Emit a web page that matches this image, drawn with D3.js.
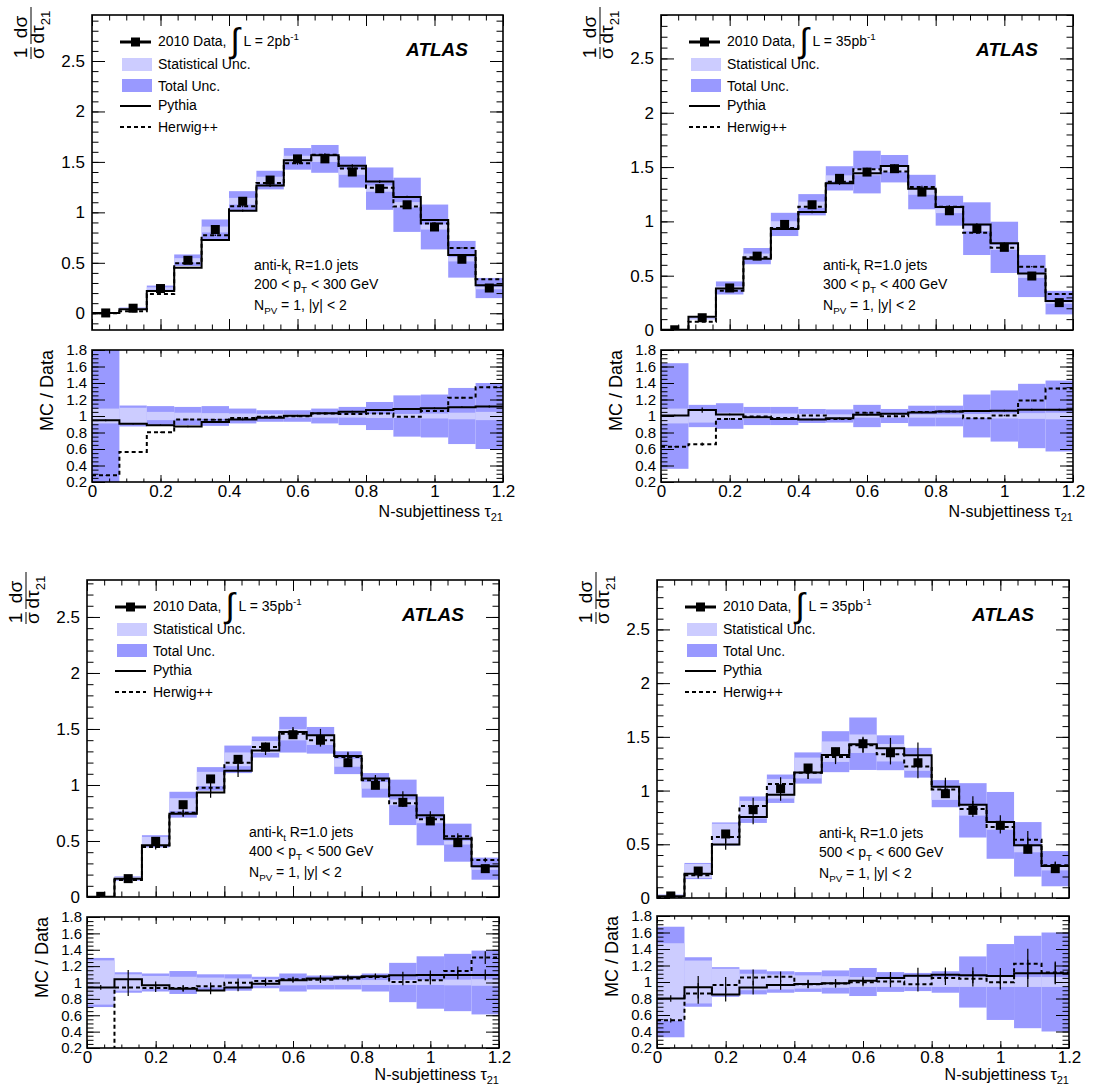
<!DOCTYPE html>
<html>
<head>
<meta charset="utf-8">
<script src="https://cdn.jsdelivr.net/npm/d3@7"></script>
<style>
  body { margin: 0; background: #fff; }
  svg text { font-family: "Liberation Sans", Arial, sans-serif; fill: #000; }
</style>
</head>
<body>
<svg id="chart" width="1099" height="1086"></svg>
<script>
const binEdges = [0, 0.08, 0.16, 0.24, 0.32, 0.4, 0.48, 0.56, 0.64, 0.72, 0.8, 0.88, 0.96, 1.04, 1.12, 1.2];
const mainTicks = [0, 0.5, 1, 1.5, 2, 2.5];
const ratioTicks = [0.2, 0.4, 0.6, 0.8, 1, 1.2, 1.4, 1.6, 1.8];
const xTicks = [0, 0.2, 0.4, 0.6, 0.8, 1, 1.2];

const ptLow = [200, 300, 400, 500];
const ptHigh = [300, 400, 500, 600];
const lumi = ["2", "35", "35", "35"];

// 200 < pT < 300
const data200 = [0.003, 0.05, 0.245, 0.525, 0.83, 1.11, 1.32, 1.53, 1.53, 1.40, 1.235, 1.075, 0.855, 0.535, 0.25];
const pythia200 = [0.003, 0.04, 0.22, 0.45, 0.727, 1.017, 1.265, 1.516, 1.566, 1.463, 1.305, 1.153, 0.925, 0.578, 0.278];
const herwig200 = [0.001, 0.02, 0.19, 0.495, 0.773, 1.06, 1.29, 1.487, 1.57, 1.434, 1.245, 1.057, 0.889, 0.647, 0.337];
const ratioPy200 = [0.947, 0.906, 0.889, 0.873, 0.926, 0.959, 0.98, 1.004, 1.033, 1.053, 1.074, 1.086, 1.094, 1.107, 1.115];
const ratioHw200 = [0.282, 0.565, 0.803, 0.959, 0.955, 0.975, 0.99, 0.996, 1.029, 1.025, 1.029, 0.99, 1.062, 1.222, 1.349];
const statRel200 = [0.09, 0.1, 0.05, 0.04, 0.035, 0.03, 0.025, 0.02, 0.02, 0.02, 0.025, 0.025, 0.03, 0.04, 0.05];
const totRel200 = [1.2, 0.127, 0.12, 0.11, 0.12, 0.09, 0.07, 0.07, 0.09, 0.11, 0.17, 0.25, 0.26, 0.34, 0.40];
const mcErr200 = [0.01, 0.01, 0.01, 0.01, 0.01, 0.01, 0.01, 0.01, 0.01, 0.01, 0.01, 0.01, 0.01, 0.01, 0.01];

// 300 < pT < 400
const data300 = [0.002, 0.113, 0.387, 0.68, 0.972, 1.153, 1.396, 1.454, 1.485, 1.27, 1.098, 0.933, 0.761, 0.497, 0.252];
const pythia300 = [0.002, 0.123, 0.383, 0.656, 0.929, 1.086, 1.35, 1.442, 1.509, 1.30, 1.132, 0.972, 0.798, 0.521, 0.267];
const herwig300 = [0.001, 0.077, 0.362, 0.669, 0.939, 1.135, 1.365, 1.479, 1.46, 1.316, 1.135, 0.896, 0.758, 0.583, 0.331];
const ratioPy300 = [1.006, 1.072, 1.019, 0.986, 0.965, 0.957, 0.973, 1.015, 1.027, 1.043, 1.056, 1.06, 1.064, 1.077, 1.077];
const ratioHw300 = [0.626, 0.659, 0.965, 0.994, 0.977, 1.006, 0.965, 1.039, 0.998, 1.048, 1.056, 0.973, 1.006, 1.188, 1.333];
const statRel300 = [0.09, 0.08, 0.04, 0.035, 0.03, 0.025, 0.02, 0.02, 0.02, 0.02, 0.02, 0.025, 0.03, 0.035, 0.04];
const totRel300 = [0.64, 0.135, 0.155, 0.11, 0.11, 0.085, 0.08, 0.135, 0.085, 0.125, 0.125, 0.26, 0.31, 0.39, 0.43];
const mcErr300 = [0.01, 0.03, 0.01, 0.01, 0.01, 0.01, 0.01, 0.01, 0.01, 0.01, 0.01, 0.01, 0.01, 0.01, 0.01];

// 400 < pT < 500
const data400 = [0.006, 0.164, 0.497, 0.824, 1.054, 1.229, 1.339, 1.449, 1.399, 1.199, 0.997, 0.845, 0.679, 0.485, 0.253];
const pythia400 = [0.003, 0.164, 0.461, 0.744, 0.932, 1.128, 1.307, 1.473, 1.443, 1.259, 1.057, 0.908, 0.729, 0.521, 0.274];
const herwig400 = [0.0, 0.152, 0.446, 0.753, 0.976, 1.199, 1.339, 1.458, 1.399, 1.25, 1.042, 0.836, 0.693, 0.542, 0.33];
const ratioPy400 = [0.94, 1.039, 0.965, 0.924, 0.903, 0.94, 0.986, 1.027, 1.048, 1.064, 1.077, 1.089, 1.093, 1.093, 1.093];
const ratioHw400 = [0.0, 0.94, 0.932, 0.932, 0.953, 0.998, 1.019, 1.039, 1.035, 1.048, 1.068, 1.006, 1.027, 1.139, 1.304];
const statRel400 = [0.27, 0.1, 0.08, 0.07, 0.06, 0.05, 0.04, 0.035, 0.03, 0.03, 0.03, 0.03, 0.03, 0.035, 0.04];
const totRel400 = [0.3, 0.125, 0.11, 0.14, 0.1, 0.1, 0.07, 0.11, 0.085, 0.085, 0.11, 0.24, 0.32, 0.35, 0.39];
const mcErr400 = [0.03, 0.11, 0.05, 0.04, 0.05, 0.05, 0.03, 0.03, 0.04, 0.03, 0.03, 0.04, 0.05, 0.05, 0.06];

// 500 < pT < 600
const data500 = [0.019, 0.251, 0.596, 0.822, 1.017, 1.21, 1.362, 1.436, 1.352, 1.259, 0.971, 0.816, 0.676, 0.453, 0.273];
const pythia500 = [0.016, 0.226, 0.499, 0.754, 0.962, 1.169, 1.331, 1.43, 1.393, 1.328, 1.036, 0.868, 0.707, 0.49, 0.298];
const herwig500 = [0.009, 0.211, 0.568, 0.856, 1.061, 1.166, 1.312, 1.421, 1.337, 1.225, 1.011, 0.828, 0.661, 0.543, 0.304];
const ratioPy500 = [0.8, 0.936, 0.849, 0.932, 0.965, 0.977, 0.986, 1.015, 1.048, 1.077, 1.089, 1.081, 1.072, 1.105, 1.105];
const ratioHw500 = [0.535, 0.862, 0.965, 1.056, 1.064, 0.973, 0.981, 0.998, 1.006, 0.973, 1.048, 1.039, 0.998, 1.221, 1.114];
const statRel500 = [0.47, 0.26, 0.16, 0.1, 0.09, 0.08, 0.07, 0.06, 0.06, 0.06, 0.06, 0.06, 0.06, 0.06, 0.06];
const totRel500 = [0.67, 0.3, 0.18, 0.15, 0.13, 0.12, 0.14, 0.17, 0.12, 0.11, 0.13, 0.31, 0.46, 0.56, 0.6];
const mcErr500 = [0.05, 0.145, 0.1, 0.09, 0.06, 0.05, 0.05, 0.05, 0.07, 0.09, 0.08, 0.09, 0.09, 0.15, 0.12];

const panels = [
  { data: data200, py: pythia200, hw: herwig200, rPy: ratioPy200, rHw: ratioHw200, stat: statRel200, tot: totRel200, mcErr: mcErr200 },
  { data: data300, py: pythia300, hw: herwig300, rPy: ratioPy300, rHw: ratioHw300, stat: statRel300, tot: totRel300, mcErr: mcErr300 },
  { data: data400, py: pythia400, hw: herwig400, rPy: ratioPy400, rHw: ratioHw400, stat: statRel400, tot: totRel400, mcErr: mcErr400 },
  { data: data500, py: pythia500, hw: herwig500, rPy: ratioPy500, rHw: ratioHw500, stat: statRel500, tot: totRel500, mcErr: mcErr500 }
];

const layout = [
  { x0: 92, x1: 503, top: 15, bottom: 330, rTop: 350, rBottom: 482, yMin: -0.166, yMax: 2.956, titleGap: 35 },
  { x0: 661, x1: 1073, top: 15, bottom: 330, rTop: 350, rBottom: 482, yMin: 0, yMax: 2.9, titleGap: 35 },
  { x0: 87, x1: 499, top: 580, bottom: 897, rTop: 917, rBottom: 1048, yMin: 0, yMax: 2.83, titleGap: 32 },
  { x0: 657, x1: 1069, top: 580, bottom: 898, rTop: 916, rBottom: 1048, yMin: 0, yMax: 2.96, titleGap: 32 }
];

const totColor = "#9999ff";
const statColor = "#ccccff";

const svg = d3.select("#chart");

const steps = vals => binEdges.map((e, i) => [e, vals[Math.min(i, vals.length - 1)]]);
const centers = binEdges.slice(0, -1).map((e, i) => (e + binEdges[i + 1]) / 2);
const minor = (lo, hi, step) => d3.range(Math.ceil(lo / step - 1e-6), Math.floor(hi / step + 1e-6) + 1).map(k => +(k * step).toFixed(4));

function rich(g, x, y, parts, size, anchor) {
  const t = g.append("text").attr("x", x).attr("y", y)
    .attr("font-size", size).attr("text-anchor", anchor || "start");
  let shift = 0;
  parts.forEach(p => {
    const target = p.off !== undefined ? p.off : p.sub ? size * 0.3 : p.sup ? -size * 0.45 : 0;
    const s = t.append("tspan").text(p.t).attr("dy", target - shift);
    if (p.sub || p.sup) s.attr("font-size", size * 0.7);
    if (p.size) s.attr("font-size", p.size);
    shift = target;
  });
  return t;
}

function frameAxes(g, x, y, w, h, o) {
  const fmt = d => String(d);
  const strip = sel => { sel.select(".domain").remove(); sel.selectAll("line").attr("stroke", "#000").attr("stroke-width", 1); };
  // left
  g.append("g").call(d3.axisLeft(y).tickValues(o.yMajor).tickSize(-o.yLen).tickPadding(o.yPad).tickFormat(fmt))
    .call(strip).call(s => s.selectAll("text").attr("font-size", o.yFont).attr("font-family", null));
  g.append("g").call(d3.axisLeft(y).tickValues(o.yMinor).tickSize(-o.yLen / 2).tickFormat("")).call(strip);
  // right
  g.append("g").attr("transform", `translate(${w},0)`)
    .call(d3.axisRight(y).tickValues(o.yMajor).tickSize(-o.yLen).tickFormat("")).call(strip);
  g.append("g").attr("transform", `translate(${w},0)`)
    .call(d3.axisRight(y).tickValues(o.yMinor).tickSize(-o.yLen / 2).tickFormat("")).call(strip);
  // top
  g.append("g").call(d3.axisTop(x).tickValues(xTicks).tickSize(-o.xLen).tickFormat("")).call(strip);
  g.append("g").call(d3.axisTop(x).tickValues(o.xMinor).tickSize(-o.xLen / 2).tickFormat("")).call(strip);
  // bottom
  g.append("g").attr("transform", `translate(0,${h})`)
    .call(d3.axisBottom(x).tickValues(xTicks).tickSize(-o.xLen).tickPadding(3).tickFormat(o.xLabels ? fmt : ""))
    .call(strip).call(s => s.selectAll("text").attr("font-size", 17).attr("font-family", null));
  g.append("g").attr("transform", `translate(0,${h})`)
    .call(d3.axisBottom(x).tickValues(o.xMinor).tickSize(-o.xLen / 2).tickFormat("")).call(strip);
  g.append("rect").attr("width", w).attr("height", h)
    .attr("fill", "none").attr("stroke", "#000").attr("stroke-width", 1.6);
}

function drawHists(g, x, y, py, hw) {
  const line = d3.line().x(d => x(d[0])).y(d => y(d[1])).curve(d3.curveStepAfter);
  g.append("path").attr("d", line(steps(py))).attr("fill", "none")
    .attr("stroke", "#000").attr("stroke-width", 2);
  g.append("path").attr("d", line(steps(hw))).attr("fill", "none")
    .attr("stroke", "#000").attr("stroke-width", 2).attr("stroke-dasharray", "4,3");
}

function drawMcErr(g, x, y, vals, rel) {
  g.append("g").selectAll("line").data(vals).enter().append("line")
    .attr("x1", (d, i) => x(centers[i])).attr("x2", (d, i) => x(centers[i]))
    .attr("y1", (d, i) => y(d * (1 + rel[i]))).attr("y2", (d, i) => y(d * (1 - rel[i])))
    .attr("stroke", "#000").attr("stroke-width", 1.2);
}

panels.forEach((p, k) => {
  const L = layout[k];
  const w = L.x1 - L.x0, h = L.bottom - L.top, rh = L.rBottom - L.rTop;

  const x = d3.scaleLinear().domain([0, 1.2]).range([0, w]);
  const y = d3.scaleLinear().domain([L.yMin, L.yMax]).range([h, 0]);
  const yr = d3.scaleLinear().domain([0.2, 1.8]).range([rh, 0]);

  // ---- main panel
  const g = svg.append("g").attr("transform", `translate(${L.x0},${L.top})`);
  svg.append("clipPath").attr("id", `cm${k}`).append("rect").attr("width", w).attr("height", h);
  const gc = g.append("g").attr("clip-path", `url(#cm${k})`);

  gc.append("g").selectAll("rect").data(p.data).enter().append("rect")
    .attr("x", (d, i) => x(binEdges[i])).attr("width", (d, i) => x(binEdges[i + 1]) - x(binEdges[i]))
    .attr("y", (d, i) => y(d * (1 + p.tot[i]))).attr("height", (d, i) => y(d * (1 - p.tot[i])) - y(d * (1 + p.tot[i])))
    .attr("fill", totColor);
  gc.append("g").selectAll("rect").data(p.data).enter().append("rect")
    .attr("x", (d, i) => x(binEdges[i])).attr("width", (d, i) => x(binEdges[i + 1]) - x(binEdges[i]))
    .attr("y", (d, i) => y(d * (1 + p.stat[i]))).attr("height", (d, i) => y(d * (1 - p.stat[i])) - y(d * (1 + p.stat[i])))
    .attr("fill", statColor);

  drawHists(gc, x, y, p.py, p.hw);
  drawMcErr(gc, x, y, p.py, p.mcErr);
  drawMcErr(gc, x, y, p.hw, p.mcErr);

  gc.append("g").selectAll("rect").data(p.data).enter().append("rect")
    .attr("x", (d, i) => x(centers[i]) - 4.5).attr("y", d => y(d) - 4.5)
    .attr("width", 9).attr("height", 9).attr("fill", "#000");

  frameAxes(g, x, y, w, h, {
    yMajor: mainTicks, yMinor: minor(L.yMin, L.yMax, 0.1), yLen: 13, yPad: 7, yFont: 17,
    xMinor: minor(0, 1.2, 0.05), xLen: 11, xLabels: false
  });

  // y title: 1/sigma dsigma/dtau21
  const yt = svg.append("g").attr("transform", `translate(${L.x0 - 62},${L.top + 45}) rotate(-90)`);
  yt.append("text").attr("x", 7).attr("y", -3).attr("text-anchor", "middle").attr("font-size", 19).text("1");
  yt.append("text").attr("x", 7).attr("y", 14).attr("text-anchor", "middle").attr("font-size", 19).text("σ");
  yt.append("line").attr("x1", 1).attr("x2", 13).attr("y1", 1).attr("y2", 1).attr("stroke", "#000").attr("stroke-width", 1);
  yt.append("text").attr("x", 33).attr("y", -3).attr("text-anchor", "middle").attr("font-size", 19).text("dσ");
  rich(yt, 33, 14, [{ t: "dτ" }, { t: "21", sub: true }], 19, "middle");
  yt.append("line").attr("x1", 16).attr("x2", 53).attr("y1", 1).attr("y2", 1).attr("stroke", "#000").attr("stroke-width", 1);

  // legend
  const lx = L.x0 + 28, ly = L.top;
  svg.append("line").attr("x1", lx).attr("x2", lx + 31).attr("y1", ly + 27).attr("y2", ly + 27)
    .attr("stroke", "#000").attr("stroke-width", 3);
  svg.append("rect").attr("x", lx + 11).attr("y", ly + 22.5).attr("width", 9).attr("height", 9).attr("fill", "#000");
  rich(svg, lx + 38, ly + 31, [
    { t: "2010 Data, " }, { t: "∫", size: 34, off: 6 }, { t: " L = " + lumi[k] + "pb", off: 0 }, { t: "-1", sup: true }
  ], 14);
  svg.append("rect").attr("x", lx + 2).attr("y", ly + 43).attr("width", 30).attr("height", 13).attr("fill", statColor);
  svg.append("text").attr("x", lx + 38).attr("y", ly + 54).attr("font-size", 14).text("Statistical Unc.");
  svg.append("rect").attr("x", lx + 2).attr("y", ly + 64).attr("width", 30).attr("height", 13).attr("fill", totColor);
  svg.append("text").attr("x", lx + 38).attr("y", ly + 76).attr("font-size", 14).text("Total Unc.");
  svg.append("line").attr("x1", lx).attr("x2", lx + 31).attr("y1", ly + 91).attr("y2", ly + 91)
    .attr("stroke", "#000").attr("stroke-width", 2);
  svg.append("text").attr("x", lx + 38).attr("y", ly + 95).attr("font-size", 14).text("Pythia");
  svg.append("line").attr("x1", lx).attr("x2", lx + 31).attr("y1", ly + 112).attr("y2", ly + 112)
    .attr("stroke", "#000").attr("stroke-width", 2).attr("stroke-dasharray", "4,3");
  svg.append("text").attr("x", lx + 38).attr("y", ly + 117).attr("font-size", 14).text("Herwig++");

  svg.append("text").attr("x", L.x1 - 35).attr("y", L.top + 41).attr("text-anchor", "end")
    .attr("font-size", 19).attr("font-weight", "bold").attr("font-style", "italic").text("ATLAS");

  const ax = L.x0 + 162;
  rich(svg, ax, L.bottom - 60, [{ t: "anti-k" }, { t: "t", sub: true }, { t: " R=1.0 jets", off: 0 }], 14);
  rich(svg, ax, L.bottom - 41, [{ t: ptLow[k] + " < p" }, { t: "T", sub: true }, { t: " < " + ptHigh[k] + " GeV", off: 0 }], 14);
  rich(svg, ax, L.bottom - 20, [{ t: "N" }, { t: "PV", sub: true }, { t: " = 1, |y| < 2", off: 0 }], 14);

  // ---- ratio panel
  const r = svg.append("g").attr("transform", `translate(${L.x0},${L.rTop})`);
  svg.append("clipPath").attr("id", `cr${k}`).append("rect").attr("width", w).attr("height", rh);
  const rc = r.append("g").attr("clip-path", `url(#cr${k})`);

  rc.append("g").selectAll("rect").data(p.tot).enter().append("rect")
    .attr("x", (d, i) => x(binEdges[i])).attr("width", (d, i) => x(binEdges[i + 1]) - x(binEdges[i]))
    .attr("y", d => yr(1 + d)).attr("height", d => yr(1 - d) - yr(1 + d))
    .attr("fill", totColor);
  rc.append("g").selectAll("rect").data(p.stat).enter().append("rect")
    .attr("x", (d, i) => x(binEdges[i])).attr("width", (d, i) => x(binEdges[i + 1]) - x(binEdges[i]))
    .attr("y", d => yr(1 + d)).attr("height", d => yr(1 - d) - yr(1 + d))
    .attr("fill", statColor);

  drawHists(rc, x, yr, p.rPy, p.rHw);
  drawMcErr(rc, x, yr, p.rPy, p.mcErr);
  drawMcErr(rc, x, yr, p.rHw, p.mcErr);

  frameAxes(r, x, yr, w, rh, {
    yMajor: ratioTicks, yMinor: minor(0.2, 1.8, 0.05), yLen: 13, yPad: 5, yFont: 15,
    xMinor: minor(0, 1.2, 0.05), xLen: 7, xLabels: true
  });

  svg.append("g").attr("transform", `translate(${L.x0 - 39},${L.rTop}) rotate(-90)`)
    .append("text").attr("text-anchor", "end").attr("font-size", 18).text("MC / Data");

  rich(svg, L.x1, L.rBottom + L.titleGap, [{ t: "N-subjettiness τ" }, { t: "21", off: 3.5, size: 11 }], 16, "end");
});
</script>
</body>
</html>
